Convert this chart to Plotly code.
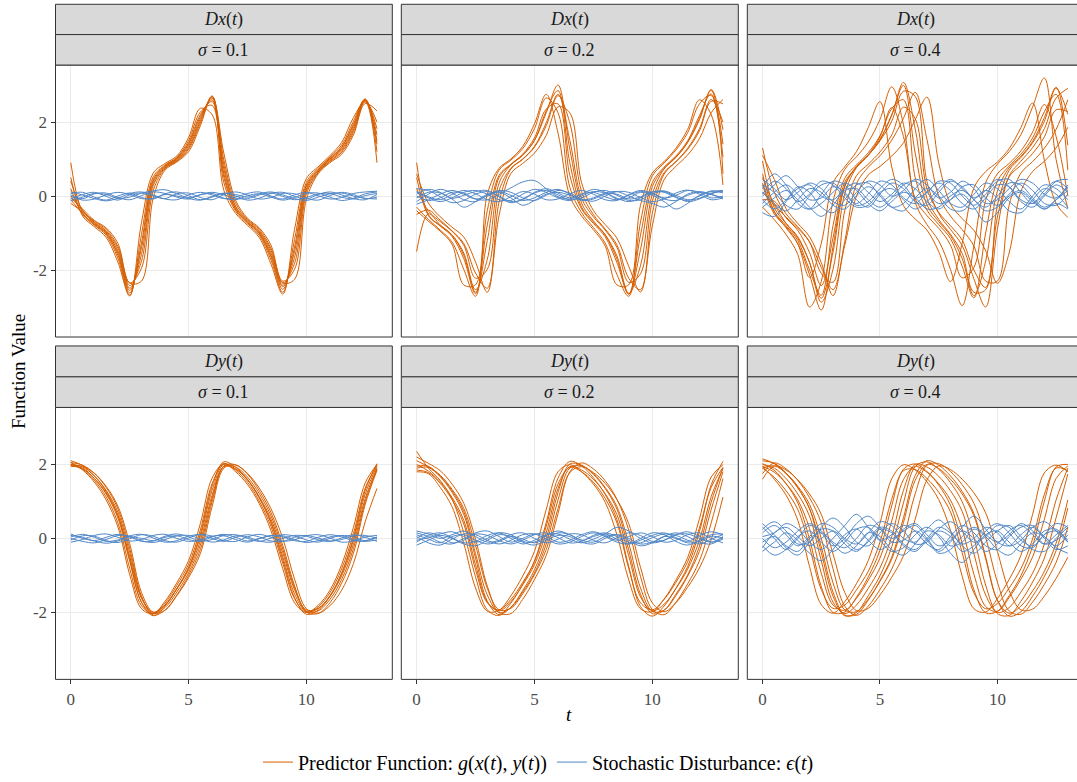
import plotly.graph_objects as go

# ---------------- data ----------------
T = [0.0, 0.5, 1.0, 1.5, 2.0, 2.5, 3.0, 3.5, 4.0, 4.5, 5.0, 5.5, 6.0, 6.5,
     7.0, 7.5, 8.0, 8.5, 9.0, 9.5, 10.0, 10.5, 11.0, 11.5, 12.0, 12.5, 13.0]

ROW_LABELS = ["Dx", "Dy"]
SIGMA_LABELS = ["0.1", "0.2", "0.4"]
X_TICKS = [0, 5, 10]
Y_TICKS = [-2, 0, 2]
LEGEND_G = "Predictor Function: <i>g</i>(<i>x</i>(<i>t</i>), <i>y</i>(<i>t</i>))"
LEGEND_E = "Stochastic Disturbance: <i>ϵ</i>(<i>t</i>)"

# Dx, sigma = 0.1
DX_S01_G = [
    [0.5, -0.54, -0.83, -1.12, -1.79, -2.7, -0.72, 0.62, 0.88, 1.08, 1.58, 2.37, 2.2, 0.15, -0.47, -0.79, -1.12, -1.84, -2.65, -0.9, 0.47, 0.79, 1.09, 1.45, 2.12, 2.55, 0.9],
    [0.2, -0.5, -0.79, -1.06, -1.68, -2.68, -1.04, 0.52, 0.84, 1.04, 1.5, 2.27, 2.45, 0.36, -0.41, -0.75, -1.06, -1.73, -2.6, -1.18, 0.37, 0.75, 1.05, 1.38, 2.02, 2.62, 1.2],
    [-0.1, -0.47, -0.77, -1.02, -1.6, -2.62, -1.27, 0.45, 0.82, 1.02, 1.44, 2.2, 2.55, 0.5, -0.37, -0.72, -1.02, -1.65, -2.52, -1.38, 0.3, 0.72, 1.02, 1.33, 1.95, 2.62, 1.4],
    [0.9, -0.45, -0.75, -1.0, -1.55, -2.55, -1.4, 0.4, 0.8, 1.0, 1.4, 2.15, 2.6, 0.6, -0.35, -0.7, -1.0, -1.6, -2.45, -1.5, 0.25, 0.7, 1.0, 1.3, 1.9, 2.6, 1.5],
    [-0.2, -0.43, -0.73, -0.97, -1.49, -2.49, -1.58, 0.34, 0.78, 0.98, 1.35, 2.09, 2.65, 0.72, -0.3, -0.68, -0.97, -1.54, -2.41, -1.66, 0.19, 0.68, 0.98, 1.26, 1.84, 2.6, 1.66],
    [0.0, -0.4, -0.71, -0.94, -1.42, -2.42, -1.76, 0.28, 0.76, 0.96, 1.3, 2.03, 2.68, 0.84, -0.28, -0.65, -0.94, -1.47, -2.35, -1.82, 0.13, 0.65, 0.95, 1.22, 1.78, 2.58, 1.82],
    [0.4, -0.38, -0.68, -0.9, -1.36, -2.35, -1.95, 0.15, 0.74, 0.94, 1.26, 1.97, 2.7, 0.97, -0.2, -0.63, -0.9, -1.41, -2.3, -1.98, 0.05, 0.63, 0.93, 1.18, 1.72, 2.55, 2.0],
    [-0.05, -0.35, -0.66, -0.86, -1.28, -2.35, -2.3, -0.05, 0.7, 0.92, 1.2, 1.9, 2.7, 1.15, -0.12, -0.6, -0.86, -1.33, -2.35, -2.25, -0.1, 0.6, 0.9, 1.13, 1.65, 2.5, 2.3],
]
DX_S01_E = [
    [0.03, -0.07, 0.06, 0.08, -0.04, -0.1, 0.01, 0.11, 0.07, -0.03, -0.08, 0.04, 0.1, 0.03, -0.06, -0.07, 0.03, 0.08, -0.01, -0.1, -0.04, 0.06, 0.07, -0.03, -0.08, 0.01, 0.07],
    [-0.08, 0.04, 0.1, -0.01, -0.11, 0.03, 0.08, 0.0, -0.07, 0.06, 0.08, -0.04, -0.1, 0.04, 0.11, 0.03, -0.08, -0.04, 0.07, 0.06, -0.06, -0.11, 0.01, 0.1, 0.04, -0.07, -0.03],
    [0.07, 0.1, -0.03, -0.11, 0.0, 0.08, -0.04, -0.08, 0.06, 0.11, 0.01, -0.1, -0.03, 0.08, 0.0, -0.11, -0.06, 0.07, 0.1, -0.01, -0.08, 0.04, 0.11, 0.03, -0.07, -0.1, 0.04],
    [-0.13, -0.03, 0.07, 0.04, -0.06, -0.03, 0.08, 0.14, 0.17, 0.06, -0.04, 0.03, 0.07, -0.06, -0.1, 0.01, 0.06, -0.03, -0.11, -0.04, 0.07, 0.08, -0.03, -0.12, -0.06, 0.06, 0.11],
    [0.0, -0.11, -0.08, 0.03, 0.1, 0.04, -0.07, -0.06, 0.04, 0.0, -0.07, -0.11, -0.01, 0.07, 0.04, -0.03, 0.06, 0.11, 0.03, -0.07, -0.12, -0.03, 0.06, 0.08, 0.0, -0.06, -0.08],
    [0.11, 0.03, -0.07, -0.13, -0.06, 0.07, 0.11, 0.03, -0.08, -0.1, 0.03, 0.1, 0.03, -0.07, -0.03, 0.07, 0.11, 0.0, -0.08, 0.03, 0.1, 0.01, -0.08, -0.04, 0.07, 0.11, 0.13],
]

# Dx, sigma = 0.2
DX_S02_G = [
    [-0.4, -0.68, -0.95, -1.3, -2.4, -2.4, 0.05, 0.75, 1.0, 1.34, 1.95, 2.75, 1.7, 0.0, -0.54, -0.91, -1.35, -2.4, -2.4, -0.25, 0.62, 0.93, 1.29, 1.8, 2.6, 2.2, 0.3],
    [-0.3, -0.63, -0.92, -1.24, -1.98, -2.71, -0.39, 0.7, 0.97, 1.28, 1.82, 2.65, 2.25, 0.24, -0.45, -0.85, -1.27, -2.12, -2.71, -0.7, 0.54, 0.89, 1.24, 1.71, 2.49, 2.72, 0.6],
    [0.5, -0.53, -0.81, -1.09, -1.69, -2.64, -0.78, 0.56, 0.86, 1.13, 1.57, 2.35, 2.49, 0.56, -0.35, -0.74, -1.1, -1.8, -2.65, -1.06, 0.36, 0.78, 1.08, 1.49, 2.17, 2.76, 1.05],
    [0.9, -0.5, -0.8, -1.05, -1.6, -2.6, -1.2, 0.5, 0.85, 1.1, 1.5, 2.3, 2.85, 0.9, -0.3, -0.7, -1.05, -1.7, -2.65, -1.45, 0.25, 0.75, 1.05, 1.45, 2.1, 2.85, 1.4],
    [-1.5, -0.48, -0.78, -1.05, -1.54, -2.53, -1.71, 0.35, 0.84, 1.1, 1.5, 2.25, 3.0, 1.27, -0.19, -0.67, -1.04, -1.62, -2.63, -1.88, 0.05, 0.73, 1.04, 1.45, 2.06, 2.88, 1.79],
    [0.2, -0.4, -0.69, -0.95, -1.33, -2.22, -1.98, 0.15, 0.75, 1.0, 1.34, 1.98, 2.75, 1.51, -0.06, -0.56, -0.92, -1.39, -2.33, -2.1, -0.15, 0.63, 0.93, 1.29, 1.82, 2.61, 2.0],
    [-0.5, -0.38, -0.65, -0.94, -1.28, -2.08, -2.49, -0.16, 0.73, 0.99, 1.32, 1.9, 2.71, 1.98, 0.12, -0.5, -0.89, -1.32, -2.22, -2.53, -0.47, 0.59, 0.92, 1.26, 1.76, 2.56, 2.49],
    [0.6, -0.19, -0.56, -0.84, -1.11, -1.78, -2.6, -0.52, 0.61, 0.88, 1.16, 1.64, 2.41, 2.25, 0.36, -0.39, -0.77, -1.14, -1.9, -2.59, -0.81, 0.44, 0.8, 1.11, 1.55, 2.25, 2.61],
]
DX_S02_E = [
    [0.1, -0.05, -0.15, -0.05, 0.1, 0.15, 0.05, -0.1, -0.12, 0.05, 0.18, 0.1, -0.05, -0.12, 0.0, 0.12, 0.08, -0.06, -0.15, -0.05, 0.1, 0.14, 0.02, -0.1, -0.06, 0.08, 0.12],
    [-0.15, 0.05, 0.18, 0.08, -0.1, -0.15, 0.02, 0.15, 0.1, -0.05, -0.12, 0.02, 0.15, 0.08, -0.08, -0.14, 0.0, 0.12, 0.1, -0.04, -0.15, -0.08, 0.08, 0.16, 0.05, -0.1, -0.05],
    [0.2, 0.15, -0.02, -0.18, -0.12, 0.05, 0.12, 0.0, -0.15, -0.1, 0.08, 0.15, 0.03, -0.1, -0.05, 0.1, 0.15, 0.02, -0.12, -0.1, 0.06, 0.12, -0.02, -0.15, -0.08, 0.06, 0.15],
    [0.0, -0.12, -0.05, 0.1, 0.08, -0.08, -0.1, 0.05, 0.22, 0.38, 0.42, 0.2, -0.02, -0.08, 0.05, 0.1, -0.02, -0.1, 0.02, 0.12, 0.06, -0.08, -0.12, 0.02, 0.1, 0.04, -0.05],
    [-0.05, 0.1, 0.08, -0.08, -0.3, -0.15, 0.05, 0.1, -0.05, -0.25, -0.12, 0.05, 0.1, 0.02, -0.1, -0.05, 0.08, 0.12, 0.0, -0.12, -0.2, -0.3, -0.15, 0.05, 0.12, 0.05, -0.08],
    [0.12, -0.02, -0.1, 0.04, 0.15, 0.06, -0.1, -0.15, -0.02, 0.12, 0.05, -0.1, -0.08, 0.06, 0.15, 0.05, -0.1, -0.12, 0.04, 0.15, 0.08, -0.05, 0.02, 0.15, 0.1, -0.05, 0.0],
    [-0.22, -0.1, 0.05, 0.15, 0.05, -0.08, 0.0, 0.12, 0.02, -0.12, -0.05, 0.1, 0.18, 0.05, -0.12, -0.08, 0.05, 0.05, -0.08, -0.02, 0.12, 0.1, -0.04, -0.12, 0.0, 0.14, 0.08],
    [0.05, 0.18, 0.1, -0.06, 0.02, 0.12, 0.15, -0.02, -0.18, -0.08, 0.1, 0.2, 0.08, -0.05, 0.05, 0.18, 0.1, -0.08, -0.05, 0.1, 0.02, -0.15, -0.35, -0.2, 0.02, 0.12, 0.15],
]

# Dx, sigma = 0.4
DX_S04_G = [
    [0.95, -0.32, -0.74, -1.1, -1.79, -2.76, -1.52, 0.26, 0.79, 1.1, 1.52, 2.2, 2.99, 1.16, -0.24, -0.69, -1.07, -1.69, -2.69, -1.76, 0.13, 0.76, 1.07, 1.48, 2.12, 2.94, 1.37],
    [0.35, -0.42, -0.8, -1.2, -2.0, -2.68, -0.8, 0.48, 0.84, 1.17, 1.63, 2.36, 2.6, 0.5, -0.38, -0.77, -1.15, -1.9, -2.75, -1.0, 0.4, 0.81, 1.13, 1.57, 2.28, 2.75, 0.7],
    [1.3, 0.1, -0.48, -0.83, -1.24, -2.09, -2.33, -0.4, 0.55, 0.86, 1.19, 1.65, 2.4, 2.09, 0.2, -0.44, -0.8, -1.19, -2.0, -2.47, -0.57, 0.52, 0.83, 1.15, 1.6, 2.33, 2.28],
    [-0.3, -0.64, -1.04, -1.58, -3.0, -2.31, -0.14, 0.72, 1.06, 1.46, 2.07, 2.95, 1.93, -0.17, -0.77, -1.21, -1.98, -2.96, -1.35, 0.36, 0.86, 1.2, 1.66, 2.41, 3.19, 0.99, -0.33],
    [1.1, 0.45, -0.34, -0.74, -1.1, -1.8, -2.69, -1.23, 0.33, 0.78, 1.09, 1.51, 2.1, 2.8, 1.53, 0.0, -0.54, -0.91, -1.35, -2.3, -2.3, -0.25, 0.62, 0.93, 1.29, 1.8, 2.6],
    [0.6, -0.43, -0.86, -1.29, -2.13, -3.08, -1.37, 0.28, 0.8, 1.11, 1.49, 2.02, 2.83, 2.69, 0.39, -0.47, -0.9, -1.34, -2.24, -3.0, -0.9, 0.54, 0.94, 1.31, 1.82, 2.65, 2.91],
    [-0.1, -0.14, -0.59, -0.93, -1.53, -2.42, -1.13, 0.37, 0.77, 1.11, 1.6, 2.39, 1.61, -0.07, -0.53, -0.87, -1.32, -2.21, -1.93, -0.12, 0.6, 0.88, 1.22, 1.73, 2.47, 1.61, 0.0],
    [0.3, -0.49, -0.83, -1.29, -2.2, -1.28, 0.35, 0.79, 1.2, 1.85, 2.55, 0.79, -0.26, -0.62, -0.92, -1.5, -2.31, -1.28, 0.22, 0.66, 0.92, 1.28, 1.85, 2.51, 0.97, -0.2, -0.58],
    [0.5, -0.21, -0.57, -0.87, -1.24, -1.93, -2.53, -1.33, 0.0, 0.57, 0.8, 1.08, 1.44, 2.06, 2.67, 0.9, -0.21, -0.61, -0.93, -1.48, -2.36, -1.54, 0.12, 0.66, 0.94, 1.3, 1.86],
    [0.1, -0.25, -0.74, -1.14, -1.8, -2.87, -1.98, 0.06, 0.77, 1.11, 1.53, 2.18, 3.07, 1.81, -0.06, -0.63, -1.03, -1.55, -2.6, -2.53, -0.25, 0.69, 1.04, 1.44, 2.02, 2.91, 2.21],
]
DX_S04_E = [
    [0.2, 0.6, 0.3, -0.2, -0.35, 0.05, 0.4, 0.3, -0.1, -0.3, 0.05, 0.35, 0.2, -0.15, -0.25, 0.1, 0.4, 0.25, -0.1, -0.3, 0.0, 0.35, 0.3, -0.05, -0.3, -0.1, 0.25],
    [-0.45, -0.55, -0.15, 0.25, 0.1, -0.3, -0.45, -0.1, 0.3, 0.35, 0.0, -0.3, -0.2, 0.2, 0.45, 0.15, -0.2, -0.3, 0.05, 0.35, 0.2, -0.15, -0.35, 0.0, 0.3, 0.2, -0.1],
    [0.0, 0.3, 0.55, 0.25, -0.1, -0.05, 0.25, 0.1, -0.25, -0.15, 0.2, 0.45, 0.3, -0.05, 0.1, 0.4, 0.35, 0.0, -0.25, 0.05, 0.4, 0.45, 0.1, -0.2, 0.05, 0.4, 0.45],
    [0.1, -0.2, -0.4, -0.1, 0.2, 0.1, -0.25, -0.35, 0.0, 0.25, 0.05, -0.3, -0.4, -0.05, 0.2, 0.0, -0.35, -0.4, -0.1, 0.15, -0.05, -0.4, -0.45, -0.1, 0.2, 0.05, -0.3],
    [0.3, 0.1, -0.25, -0.35, 0.0, 0.3, 0.35, 0.05, -0.2, 0.05, 0.4, 0.3, -0.05, -0.2, 0.1, 0.35, 0.15, -0.2, -0.35, -0.05, 0.3, 0.25, -0.1, -0.2, 0.15, 0.4, 0.2],
    [-0.2, 0.1, 0.3, 0.05, -0.3, -0.55, -0.25, 0.15, 0.2, -0.1, -0.3, -0.05, 0.3, 0.4, 0.1, -0.2, -0.1, 0.25, 0.3, -0.05, -0.25, 0.05, 0.35, 0.15, -0.2, -0.25, 0.05],
    [0.45, 0.2, -0.1, 0.1, 0.35, 0.2, -0.15, -0.25, 0.1, 0.4, 0.3, 0.0, 0.15, 0.45, 0.3, -0.05, 0.1, 0.4, 0.2, -0.2, -0.1, 0.2, 0.45, 0.35, 0.05, -0.05, 0.3],
    [-0.1, -0.35, -0.1, 0.2, 0.3, 0.0, -0.1, 0.2, 0.35, 0.1, -0.15, 0.05, 0.35, 0.2, -0.15, -0.35, -0.1, 0.05, -0.3, -0.7, -0.45, -0.05, 0.1, -0.15, -0.35, -0.1, 0.15],
    [0.05, 0.4, 0.2, -0.15, 0.05, 0.4, 0.3, -0.05, -0.3, -0.25, 0.1, 0.2, -0.1, -0.35, -0.15, 0.2, 0.45, 0.2, -0.05, 0.15, 0.45, 0.25, -0.15, -0.3, 0.0, 0.3, 0.1],
    [-0.3, -0.05, 0.15, -0.1, -0.35, -0.2, 0.1, 0.35, 0.15, -0.2, -0.4, -0.15, 0.1, -0.05, -0.35, -0.3, 0.0, 0.15, -0.1, -0.4, -0.3, 0.0, 0.15, -0.1, -0.35, -0.2, -0.35],
]

# Dy, sigma = 0.1
DY_S01_G = [
    [2.05, 1.85, 1.52, 1.04, 0.31, -0.98, -1.9, -2.03, -1.7, -1.2, -0.6, 0.4, 1.63, 2.02, 1.8, 1.46, 0.94, 0.21, -0.82, -1.74, -2.0, -1.81, -1.4, -0.71, 0.3, 1.5, 2.0],
    [1.98, 1.87, 1.57, 1.12, 0.42, -0.81, -1.82, -2.03, -1.75, -1.27, -0.7, 0.23, 1.48, 2.02, 1.84, 1.52, 1.01, 0.32, -0.67, -1.63, -2.0, -1.85, -1.47, -0.82, 0.13, 1.36, 1.98],
    [2.1, 1.97, 1.69, 1.27, 0.62, -0.57, -1.73, -2.09, -1.83, -1.36, -0.79, 0.12, 1.41, 2.07, 1.92, 1.6, 1.1, 0.41, -0.58, -1.6, -2.05, -1.94, -1.57, -0.93, 0.02, 1.3, 2.02],
    [1.95, 1.9, 1.62, 1.2, 0.55, -0.62, -1.72, -2.03, -1.8, -1.35, -0.8, 0.05, 1.3, 2.0, 1.88, 1.58, 1.1, 0.45, -0.5, -1.5, -1.98, -1.9, -1.55, -0.95, -0.05, 1.2, 1.95],
    [2.0, 1.88, 1.62, 1.23, 0.62, -0.49, -1.62, -1.99, -1.8, -1.37, -0.85, -0.07, 1.17, 1.94, 1.87, 1.59, 1.13, 0.52, -0.39, -1.39, -1.93, -1.89, -1.57, -1.01, -0.16, 1.08, 1.9],
    [2.0, 1.93, 1.69, 1.3, 0.71, -0.38, -1.59, -2.03, -1.87, -1.45, -0.93, -0.18, 1.08, 1.95, 1.93, 1.66, 1.21, 0.61, -0.29, -1.34, -1.96, -1.96, -1.65, -1.11, -0.28, 1.0, 1.87],
    [2.05, 1.98, 1.76, 1.38, 0.8, -0.27, -1.56, -2.07, -1.94, -1.53, -1.0, -0.3, 0.99, 1.96, 1.99, 1.74, 1.29, 0.7, -0.19, -1.28, -1.99, -2.03, -1.74, -1.21, -0.4, 0.92, 1.84],
    [1.98, 1.95, 1.76, 1.41, 0.87, -0.14, -1.46, -2.0, -1.94, -1.55, -1.06, -0.41, 0.86, 1.9, 1.98, 1.76, 1.36, 0.8, 0.0, -1.1, -1.9, -2.02, -1.82, -1.4, -0.68, 0.45, 1.35],
]
DY_S01_E = [
    [0.04, 0.11, 0.03, -0.08, -0.04, 0.07, 0.11, 0.01, -0.1, -0.06, 0.06, 0.1, 0.0, -0.08, 0.03, 0.1, 0.04, -0.07, -0.08, 0.03, 0.08, 0.01, -0.07, -0.03, 0.07, 0.08, 0.0],
    [-0.1, -0.03, 0.08, 0.12, 0.03, -0.07, -0.03, 0.08, 0.11, 0.0, -0.08, -0.04, 0.06, 0.07, -0.03, -0.1, -0.01, 0.07, 0.04, -0.06, -0.08, 0.03, 0.1, 0.04, -0.06, -0.07, 0.03],
    [0.0, -0.08, -0.12, -0.03, 0.08, 0.06, -0.06, -0.11, -0.03, 0.07, 0.08, -0.01, -0.1, -0.04, 0.07, 0.04, -0.07, -0.1, 0.0, 0.08, 0.06, -0.04, -0.08, 0.01, 0.1, 0.03, -0.08],
    [0.08, 0.03, -0.06, 0.03, 0.11, 0.04, -0.08, -0.07, 0.06, 0.12, 0.04, -0.07, -0.03, 0.08, 0.1, 0.0, -0.08, 0.01, 0.1, 0.06, -0.04, -0.1, 0.0, 0.08, 0.04, -0.06, 0.04],
    [-0.04, 0.07, 0.06, -0.06, -0.11, -0.01, 0.1, 0.06, -0.06, -0.1, 0.01, 0.11, 0.06, -0.06, -0.08, 0.04, 0.11, 0.03, -0.07, -0.04, 0.07, 0.1, 0.01, -0.1, -0.07, 0.04, 0.08],
    [0.12, 0.0, -0.07, -0.13, -0.07, 0.04, 0.0, -0.06, 0.03, 0.07, -0.03, -0.08, 0.04, 0.11, 0.03, -0.07, 0.0, 0.08, 0.07, -0.03, -0.11, -0.06, 0.04, 0.07, -0.03, -0.08, -0.04],
]

# Dy, sigma = 0.2
DY_S02_G = [
    [1.8, 1.75, 1.38, 0.86, -0.13, -1.34, -1.97, -1.94, -1.55, -1.02, -0.35, 0.78, 1.8, 1.99, 1.8, 1.47, 0.98, 0.1, -1.12, -1.9, -1.98, -1.64, -1.13, -0.52, 0.53, 1.66, 1.99],
    [2.35, 1.9, 1.57, 1.07, 0.16, -1.04, -1.93, -2.08, -1.75, -1.24, -0.61, 0.43, 1.63, 2.08, 1.96, 1.64, 1.19, 0.51, -0.76, -1.84, -2.1, -1.83, -1.35, -0.76, 0.18, 1.45, 2.08],
    [2.0, 1.82, 1.53, 1.11, 0.49, -0.71, -1.72, -1.96, -1.71, -1.26, -0.71, 0.16, 1.35, 1.94, 1.85, 1.6, 1.21, 0.64, -0.47, -1.58, -1.95, -1.78, -1.36, -0.83, -0.05, 1.13, 1.89],
    [1.95, 1.95, 1.67, 1.25, 0.65, -0.53, -1.7, -2.06, -1.86, -1.41, -0.85, -0.01, 1.24, 2.01, 1.98, 1.73, 1.35, 0.79, -0.31, -1.51, -2.03, -1.94, -1.51, -0.99, -0.21, 0.98, 1.91],
    [2.1, 1.93, 1.68, 1.29, 0.73, -0.41, -1.53, -2.0, -1.87, -1.45, -0.94, -0.15, 1.04, 1.9, 1.96, 1.75, 1.38, 0.86, -0.13, -1.34, -1.97, -1.94, -1.55, -1.02, -0.35, 0.78, 1.8],
    [1.9, 1.92, 1.71, 1.33, 0.81, -0.19, -1.35, -1.93, -1.89, -1.5, -0.98, -0.3, 0.81, 1.78, 1.94, 1.78, 1.49, 1.05, 0.4, -0.78, -1.74, -1.98, -1.74, -1.32, -0.8, -0.03, 1.12],
    [2.2, 2.03, 1.83, 1.47, 0.95, -0.02, -1.29, -2.01, -2.03, -1.65, -1.11, -0.46, 0.67, 1.8, 2.04, 1.88, 1.56, 1.06, 0.23, -1.03, -1.92, -2.06, -1.73, -1.23, -0.61, 0.42, 1.62],
    [1.85, 1.78, 1.49, 1.05, 0.39, -0.84, -1.74, -1.93, -1.65, -1.19, -0.63, 0.33, 1.47, 1.92, 1.8, 1.52, 1.08, 0.42, -0.81, -1.74, -1.93, -1.65, -1.19, -0.63, 0.28, 1.38, 1.92],
]
DY_S02_E = [
    [0.15, 0.05, -0.1, -0.15, 0.0, 0.12, 0.08, -0.06, -0.15, -0.05, 0.1, 0.15, 0.02, -0.12, -0.08, 0.08, 0.15, 0.05, -0.1, -0.12, 0.02, 0.12, 0.08, -0.05, -0.15, -0.02, 0.1],
    [-0.1, 0.08, 0.15, 0.02, -0.12, -0.08, 0.08, 0.15, 0.0, -0.15, -0.05, 0.1, 0.12, -0.02, -0.12, -0.02, 0.12, 0.3, 0.2, 0.0, -0.12, -0.05, 0.1, 0.12, 0.0, -0.1, 0.05],
    [0.05, -0.12, -0.18, -0.02, 0.12, 0.1, -0.05, -0.15, -0.05, 0.1, 0.12, -0.02, -0.15, -0.1, 0.05, 0.15, 0.05, -0.1, -0.15, 0.0, 0.15, 0.1, -0.08, -0.18, -0.05, 0.1, 0.12],
    [0.2, 0.12, 0.0, 0.1, 0.2, 0.05, -0.1, -0.05, 0.1, 0.15, 0.0, -0.12, -0.02, 0.12, 0.1, -0.05, -0.12, 0.02, 0.15, 0.08, -0.08, -0.05, 0.1, 0.18, 0.05, -0.1, -0.02],
    [-0.18, -0.05, 0.08, 0.0, -0.15, -0.2, -0.05, 0.1, 0.05, -0.1, -0.18, -0.05, 0.08, 0.05, -0.1, -0.15, 0.0, 0.1, 0.0, -0.15, -0.1, 0.05, 0.0, -0.12, -0.08, 0.06, 0.0],
    [0.0, 0.15, 0.05, -0.12, -0.05, 0.15, 0.2, 0.05, -0.1, 0.0, 0.12, 0.05, -0.1, -0.05, 0.1, 0.18, 0.08, -0.05, 0.05, 0.15, 0.05, -0.1, -0.05, 0.1, 0.15, 0.0, -0.12],
    [0.1, -0.02, -0.12, 0.05, 0.1, -0.05, -0.15, -0.08, 0.05, -0.02, -0.12, 0.0, 0.15, 0.1, -0.05, -0.1, 0.05, 0.1, -0.05, -0.2, -0.12, 0.05, 0.15, 0.05, -0.1, -0.15, 0.03],
    [-0.05, 0.02, 0.12, 0.18, 0.05, -0.1, 0.0, 0.15, 0.1, -0.08, -0.1, 0.08, 0.2, 0.1, -0.05, 0.05, 0.12, -0.02, -0.15, -0.05, 0.08, 0.15, 0.02, -0.08, 0.08, 0.18, 0.1],
]

# Dy, sigma = 0.4
DY_S04_G = [
    [2.0, 1.9, 1.62, 1.2, 0.6, -0.6, -1.72, -2.03, -1.8, -1.35, -0.8, 0.05, 1.3, 2.0, 1.93, 1.68, 1.29, 0.73, -0.41, -1.53, -2.0, -1.87, -1.45, -0.94, -0.15, 1.04, 1.9],
    [2.02, 1.84, 1.48, 0.96, -0.02, -1.3, -2.0, -1.99, -1.59, -1.04, -0.32, 0.88, 1.87, 2.01, 1.81, 1.44, 0.9, -0.13, -1.39, -2.01, -1.97, -1.55, -1.01, -0.21, 1.01, 1.93, 2.0],
    [1.9, 1.96, 1.76, 1.41, 0.92, 0.0, -1.2, -1.93, -1.98, -1.64, -1.16, -0.56, 0.43, 1.57, 2.0, 1.89, 1.6, 1.2, 0.61, -0.55, -1.67, -2.02, -1.83, -1.42, -0.89, -0.13, 1.04],
    [1.95, 1.6, 1.17, 0.49, -0.76, -1.79, -2.02, -1.71, -1.22, -0.6, 0.41, 1.61, 1.99, 1.85, 1.53, 1.05, 0.22, -1.02, -1.9, -1.99, -1.63, -1.11, -0.46, 0.65, 1.77, 1.98, 1.8],
    [1.6, 1.96, 1.85, 1.58, 1.2, 0.65, -0.42, -1.46, -1.95, -1.89, -1.53, -1.05, -0.47, 0.52, 1.58, 1.96, 1.86, 1.6, 1.23, 0.69, -0.35, -1.41, -1.93, -1.91, -1.56, -1.08, -0.51],
    [2.1, 2.03, 1.77, 1.37, 0.8, -0.38, -1.56, -2.09, -2.0, -1.55, -1.01, -0.23, 0.96, 1.94, 2.07, 1.87, 1.51, 0.99, 0.03, -1.26, -2.03, -2.08, -1.7, -1.18, -0.53, 0.56, 1.74],
    [1.95, 1.79, 1.48, 1.04, 0.27, -0.94, -1.8, -1.94, -1.62, -1.13, -0.53, 0.47, 1.59, 1.94, 1.79, 1.48, 1.04, 0.25, -0.97, -1.84, -1.97, -1.6, -1.1, -0.5, 0.52, 1.62, 1.96],
    [1.75, 2.04, 1.88, 1.57, 1.1, 0.42, -0.82, -1.83, -2.08, -1.83, -1.38, -0.83, -0.01, 1.21, 1.98, 2.02, 1.81, 1.45, 0.95, 0.03, -1.18, -1.96, -2.05, -1.72, -1.24, -0.65, 0.3],
    [1.9, 1.65, 1.29, 0.78, -0.23, -1.38, -1.89, -1.8, -1.39, -0.89, -0.1, 1.06, 1.83, 1.86, 1.62, 1.25, 0.72, -0.39, -1.47, -1.9, -1.76, -1.34, -0.82, -0.01, 1.19, 1.9, 1.83],
    [2.15, 2.02, 1.75, 1.37, 0.81, -0.23, -1.45, -2.07, -2.05, -1.67, -1.14, -0.51, 0.56, 1.7, 2.1, 1.98, 1.69, 1.27, 0.67, -0.5, -1.68, -2.1, -1.98, -1.56, -1.03, -0.33, 0.82],
]
DY_S04_E = [
    [0.25, 0.45, 0.2, -0.15, -0.1, 0.3, 0.55, 0.3, -0.1, -0.2, 0.15, 0.4, 0.2, -0.15, -0.1, 0.25, 0.45, 0.2, -0.1, 0.05, 0.35, 0.3, -0.05, -0.2, 0.1, 0.4, 0.3],
    [-0.2, -0.45, -0.3, 0.05, 0.2, -0.1, -0.35, -0.1, 0.25, 0.3, -0.05, -0.35, -0.25, 0.1, 0.3, 0.05, -0.4, -0.65, -0.3, 0.1, 0.2, -0.1, -0.35, -0.15, 0.2, 0.25, -0.1],
    [0.05, 0.15, 0.4, 0.25, -0.1, -0.3, 0.0, 0.35, 0.65, 0.3, -0.05, 0.1, 0.35, 0.2, -0.15, -0.3, 0.05, 0.35, 0.15, -0.2, -0.3, 0.05, 0.3, 0.35, 0.05, -0.2, 0.1],
    [0.4, 0.1, -0.25, -0.45, -0.1, 0.25, 0.2, -0.15, -0.35, -0.05, 0.3, 0.2, -0.15, -0.3, 0.0, 0.3, 0.15, -0.2, -0.4, -0.1, 0.2, 0.35, 0.05, -0.3, -0.35, 0.0, 0.3],
    [-0.35, -0.1, 0.15, -0.05, -0.4, -0.6, -0.3, 0.1, 0.25, -0.05, -0.3, -0.1, 0.25, 0.4, 0.1, -0.2, -0.05, 0.3, 0.6, 0.25, -0.1, -0.2, 0.1, 0.3, 0.0, -0.3, -0.2],
    [0.15, 0.35, 0.1, -0.2, 0.05, 0.4, 0.3, 0.0, -0.15, 0.15, 0.45, 0.35, 0.0, -0.1, 0.25, 0.5, 0.2, -0.15, 0.0, 0.3, 0.15, -0.2, -0.05, 0.3, 0.45, 0.2, -0.1],
    [-0.1, 0.05, -0.2, -0.35, 0.0, 0.15, -0.15, -0.4, -0.2, 0.15, 0.05, -0.3, -0.45, -0.15, 0.2, 0.1, -0.2, -0.1, 0.25, 0.05, -0.3, -0.45, -0.15, 0.15, 0.05, -0.25, -0.4],
    [0.3, 0.0, -0.3, 0.0, 0.35, 0.15, -0.2, 0.0, 0.4, 0.6, 0.3, 0.0, 0.2, 0.35, 0.0, -0.35, -0.1, 0.2, 0.0, -0.35, -0.15, 0.2, 0.35, 0.1, -0.15, 0.1, 0.35],
    [-0.25, 0.15, 0.3, 0.05, -0.2, 0.0, 0.2, -0.05, -0.3, -0.1, 0.25, 0.15, -0.2, -0.35, -0.05, 0.2, 0.05, -0.35, -0.2, 0.2, 0.4, 0.15, -0.2, -0.25, 0.1, 0.2, -0.05],
    [0.0, -0.25, -0.1, 0.2, 0.4, 0.2, -0.1, -0.25, 0.0, 0.35, 0.25, -0.1, -0.05, 0.2, -0.05, -0.4, -0.3, 0.05, 0.3, 0.1, -0.1, 0.1, 0.4, 0.2, -0.15, -0.05, 0.2],
]

PANELS = [
    (DX_S01_G, DX_S01_E), (DX_S02_G, DX_S02_E), (DX_S04_G, DX_S04_E),
    (DY_S01_G, DY_S01_E), (DY_S02_G, DY_S02_E), (DY_S04_G, DY_S04_E),
]

# ---------------- styling / layout ----------------
W, H = 1077, 782
FONT = "Liberation Serif"
ORANGE = "#D55E00"
BLUE = "#4F86C6"
BORDER = "#333333"
STRIP_FILL = "#D9D9D9"
GRID = "#EBEBEB"


def fx(px):
    return px / W


def fy(py):
    return 1 - py / H


COL_PX = [(55.5, 392.3), (401.3, 738.3), (747.3, 1083.5)]
X_RANGES = [[-0.65, 13.65], [-0.65, 13.65], [-0.65, 13.39]]
ROW_PX = [(65.3, 338.3), (409.0, 682.0)]
STRIP_PX = [((4.3, 34.7), (34.7, 65.3)), ((347.3, 378.3), (378.3, 409.0))]
Y_RANGE = [-3.81, 3.54]

fig = go.Figure()
shown = {"g": False, "e": False}

for i, (g_list, e_list) in enumerate(PANELS):
    suffix = "" if i == 0 else str(i + 1)
    for key, curves, color, name in (("g", g_list, ORANGE, LEGEND_G), ("e", e_list, BLUE, LEGEND_E)):
        for ys in curves:
            fig.add_trace(go.Scatter(
                x=T[:len(ys)], y=ys, mode="lines",
                line=dict(color=color, width=1, shape="spline", smoothing=1.0),
                name=name, legendgroup=key, showlegend=not shown[key],
                xaxis="x" + suffix, yaxis="y" + suffix, hoverinfo="skip",
            ))
            shown[key] = True

shapes = []
annotations = []
for i in range(6):
    r, c = divmod(i, 3)
    suffix = "" if i == 0 else str(i + 1)
    x0p, x1p = COL_PX[c]
    y0p, y1p = ROW_PX[r]
    xdom = [fx(x0p), min(1.0, fx(x1p))]
    ydom = [fy(y1p), fy(y0p)]
    fig.layout["xaxis" + suffix] = dict(
        domain=xdom, range=X_RANGES[c], anchor="y" + suffix,
        tickvals=X_TICKS, ticktext=[str(v) for v in X_TICKS],
        showticklabels=(r == 1), ticks=("outside" if r == 1 else ""),
        ticklen=4, tickwidth=1, tickcolor=BORDER,
        tickfont=dict(family=FONT, size=17, color="#4D4D4D"),
        showgrid=True, gridcolor=GRID, gridwidth=1, zeroline=False, showline=False,
    )
    fig.layout["yaxis" + suffix] = dict(
        domain=ydom, range=Y_RANGE, anchor="x" + suffix,
        tickvals=Y_TICKS, ticktext=["-2", "0", "2"],
        showticklabels=(c == 0), ticks=("outside" if c == 0 else ""),
        ticklen=4, tickwidth=1, tickcolor=BORDER,
        tickfont=dict(family=FONT, size=17, color="#4D4D4D"),
        showgrid=True, gridcolor=GRID, gridwidth=1, zeroline=False, showline=False,
    )
    # panel border
    shapes.append(dict(type="rect", xref="paper", yref="paper",
                       x0=fx(x0p), x1=fx(x1p), y0=fy(y1p), y1=fy(y0p),
                       line=dict(color=BORDER, width=1), fillcolor="rgba(0,0,0,0)", layer="above"))
    # strips
    labels = ["<i>%s</i>(<i>t</i>)" % ROW_LABELS[r], "<i>σ</i> = %s" % SIGMA_LABELS[c]]
    for (sy0, sy1), lab in zip(STRIP_PX[r], labels):
        shapes.append(dict(type="rect", xref="paper", yref="paper",
                           x0=fx(x0p), x1=fx(x1p), y0=fy(sy1), y1=fy(sy0),
                           line=dict(color=BORDER, width=1), fillcolor=STRIP_FILL, layer="above"))
        annotations.append(dict(xref="paper", yref="paper",
                                x=fx((x0p + x1p) / 2), y=fy((sy0 + sy1) / 2),
                                text=lab, showarrow=False, xanchor="center", yanchor="middle",
                                font=dict(family=FONT, size=18, color="#1A1A1A")))

annotations.append(dict(xref="paper", yref="paper", x=fx(18), y=fy(373.5),
                        text="Function Value", textangle=-90, showarrow=False,
                        xanchor="center", yanchor="middle",
                        font=dict(family=FONT, size=19, color="black")))
annotations.append(dict(xref="paper", yref="paper", x=fx(569), y=fy(717),
                        text="<i>t</i>", showarrow=False,
                        xanchor="center", yanchor="middle",
                        font=dict(family=FONT, size=19, color="black")))

fig.update_layout(
    width=W, height=H, autosize=False,
    margin=dict(l=0, r=0, t=0, b=0),
    paper_bgcolor="white", plot_bgcolor="white",
    shapes=shapes, annotations=annotations,
    showlegend=True,
    legend=dict(orientation="h", x=0.5, xanchor="center", y=fy(765), yanchor="middle",
                font=dict(family=FONT, size=20, color="black"),
                bgcolor="rgba(0,0,0,0)", itemwidth=30, tracegroupgap=0),
)

fig.write_html("out.html")
